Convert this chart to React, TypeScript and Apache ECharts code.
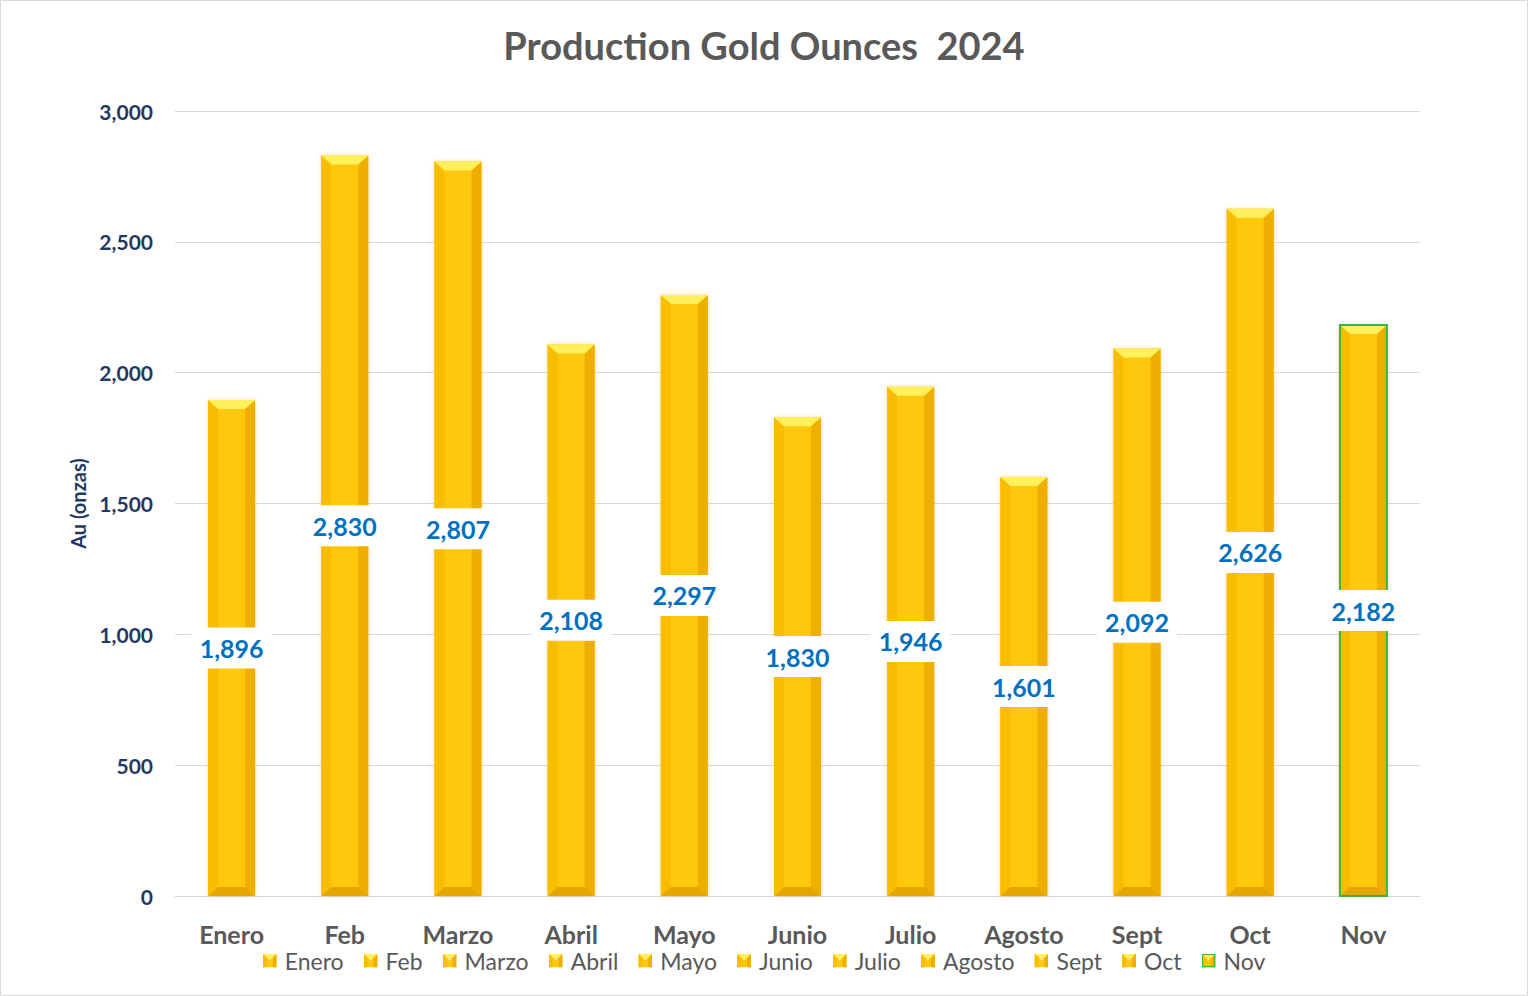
import React, { useEffect, useRef } from "react";
import * as echarts from "echarts";

const months = ["Enero", "Feb", "Marzo", "Abril", "Mayo", "Junio", "Julio", "Agosto", "Sept", "Oct", "Nov"];
const ounces = [1896, 2830, 2807, 2108, 2297, 1830, 1946, 1601, 2092, 2626, 2182];
const yTicks = { min: 0, max: 3000, interval: 500 };

const FONT = "Lato, 'Open Sans', sans-serif";
const C_CENTER = "#FFC80A";
const C_LEFT = "#F9BD00";
const C_RIGHT = "#EEAF00";
const C_TOP = "#FFF05C";
const C_BOTTOM = "#E3A700";
const C_GREEN = "#37B34A";

function iconUri(green: boolean) {
  const stroke = green ? `<rect x="0.75" y="0.75" width="12.5" height="12.5" fill="none" stroke="${C_GREEN}" stroke-width="1.5"/>` : "";
  const svg = `<svg xmlns="http://www.w3.org/2000/svg" width="14" height="14" viewBox="0 0 14 14"><rect x="0" y="0" width="14" height="14" fill="${C_CENTER}"/><polygon points="0,0 4,5 4,14 0,14" fill="${C_LEFT}"/><polygon points="14,0 10,5 10,14 14,14" fill="${C_RIGHT}"/><polygon points="0,0 14,0 7,7" fill="${C_TOP}"/>${stroke}</svg>`;
  return "image://data:image/svg+xml;charset=utf-8," + encodeURIComponent(svg);
}

function makeRender(isNov: boolean) {
  return (params: any, api: any) => {
    const idx = api.value(0);
    const val = api.value(1);
    const top = api.coord([idx, val]);
    const base = api.coord([idx, 0]);
    const band = api.size([1, 0])[0];
    const w = band * 0.415;
    const x0 = top[0] - w / 2;
    const x1 = top[0] + w / 2;
    const y0 = top[1];
    const y1 = base[1];
    const b = 10;
    const bt = 9;
    const children: any[] = [
      { type: "rect", shape: { x: x0, y: y0, width: w, height: y1 - y0 }, style: { fill: C_CENTER, shadowBlur: 4, shadowColor: "rgba(230,150,0,0.35)" } },
      { type: "polygon", shape: { points: [[x0, y0], [x0 + b, y0 + bt], [x0 + b, y1 - bt], [x0, y1]] }, style: { fill: C_LEFT } },
      { type: "polygon", shape: { points: [[x1, y0], [x1 - b, y0 + bt], [x1 - b, y1 - bt], [x1, y1]] }, style: { fill: C_RIGHT } },
      { type: "polygon", shape: { points: [[x0, y1], [x1, y1], [x1 - b, y1 - bt], [x0 + b, y1 - bt]] }, style: { fill: C_BOTTOM } },
      { type: "polygon", shape: { points: [[x0, y0], [x1, y0], [x1 - b, y0 + bt], [x0 + b, y0 + bt]] }, style: { fill: C_TOP } },
    ];
    if (isNov) {
      children.push({ type: "rect", shape: { x: x0, y: y0, width: w, height: y1 - y0 }, style: { fill: "none", stroke: C_GREEN, lineWidth: 2 } });
    }
    const mid = api.coord([idx, val / 2]);
    children.push({
      type: "text",
      x: mid[0],
      y: mid[1],
      style: {
        text: Number(val).toLocaleString("en-US"),
        fill: "#0070C0",
        font: `bold 25px ${FONT}`,
        align: "center",
        verticalAlign: "middle",
        backgroundColor: "#ffffff",
        padding: [8, 8, 8, 8],
      },
    });
    return { type: "group", children };
  };
}

export default function App() {
  const ref = useRef<HTMLDivElement>(null);
  useEffect(() => {
    document.body.style.margin = "0";
    const chart = echarts.init(ref.current!, null, { renderer: "svg" });
    const series = months.map((m, i) => ({
      name: m,
      type: "custom",
      renderItem: makeRender(i === months.length - 1),
      encode: { x: 0, y: 1 },
      data: [[i, ounces[i]]],
      z: 2,
    }));
    chart.setOption({
      animation: false,
      backgroundColor: "#ffffff",
      title: {
        text: "Production Gold Ounces  2024",
        left: "center",
        top: 21,
        textStyle: { fontFamily: FONT, fontSize: 38, fontWeight: "bold", color: "#595959" },
      },
      grid: { left: 175, right: 108, top: 111, bottom: 100 },
      legend: {
        bottom: 19,
        left: "center",
        itemWidth: 14,
        itemHeight: 14,
        itemGap: 20,
        textStyle: { fontFamily: FONT, fontSize: 23, lineHeight: 22, color: "#595959", padding: [0, 0, 0, 3] },
        data: months.map((m, i) => ({ name: m, icon: iconUri(i === months.length - 1) })),
      },
      xAxis: {
        type: "category",
        data: months,
        axisLine: { lineStyle: { color: "#D9D9D9", width: 1 } },
        axisTick: { show: false },
        axisLabel: { fontFamily: FONT, fontSize: 25, lineHeight: 24, fontWeight: "bold", color: "#595959", margin: 26 },
      },
      yAxis: {
        type: "value",
        min: yTicks.min,
        max: yTicks.max,
        interval: yTicks.interval,
        name: "Au (onzas)",
        nameLocation: "middle",
        nameRotate: 90,
        nameGap: 85,
        nameTextStyle: { fontFamily: FONT, fontSize: 20, fontWeight: "bold", color: "#1F3864" },
        axisLine: { show: false },
        axisTick: { show: false },
        splitLine: { lineStyle: { color: "#D9D9D9", width: 1 } },
        axisLabel: {
          fontFamily: FONT,
          fontSize: 21,
          fontWeight: "bold",
          color: "#1F3864",
          margin: 22,
          formatter: (v: number) => v.toLocaleString("en-US"),
        },
      },
      graphic: [
        { type: "rect", shape: { x: 0.5, y: 0.5, width: 1527, height: 995 }, style: { fill: "none", stroke: "#D9D9D9", lineWidth: 1 }, silent: true },
      ],
      series,
    });
    return () => chart.dispose();
  }, []);
  return <div ref={ref} style={{ position: "fixed", left: 0, top: 0, width: 1528, height: 996 }} />;
}
